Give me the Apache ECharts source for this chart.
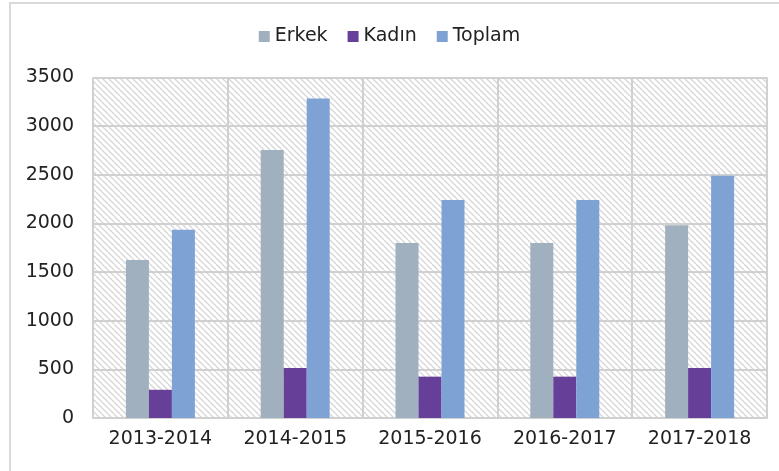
<!DOCTYPE html>
<html>
<head>
<meta charset="utf-8">
<script src="https://cdn.jsdelivr.net/npm/echarts@6/dist/echarts.min.js"></script>
<style>
  html, body { margin: 0; padding: 0; background: #fff; }
  #chart { width: 779px; height: 471px; }
</style>
</head>
<body>
<div id="chart"></div>
<script>
const years = ['2013-2014', '2014-2015', '2015-2016', '2016-2017', '2017-2018'];
const erkek = [1625, 2755, 1800, 1800, 1980];
const kadin = [290, 515, 425, 425, 515];
const toplam = [1935, 3285, 2240, 2240, 2490];

// diagonal hatch for plot background
function hatch() {
  const s = 6;
  const c = document.createElement('canvas');
  c.width = s; c.height = s;
  const ctx = c.getContext('2d');
  ctx.fillStyle = '#fff';
  ctx.fillRect(0, 0, s, s);
  ctx.strokeStyle = '#d6d6d6';
  ctx.lineWidth = 1.3;
  for (const k of [-s, 0, s]) {
    ctx.beginPath();
    ctx.moveTo(k, 0);
    ctx.lineTo(k + s, s);
    ctx.stroke();
  }
  return c;
}

const font = 'DejaVu Sans';
const myChart = echarts.init(document.getElementById('chart'));

const option = {
  animation: false,
  backgroundColor: '#fff',
  graphic: [{
    type: 'rect',
    shape: { x: 10, y: 3, width: 800, height: 500 },
    style: { fill: 'none', stroke: '#d9d9d9', lineWidth: 2 }
  }],
  legend: {
    top: 22,
    left: 'center',
    icon: 'rect',
    itemWidth: 11,
    itemHeight: 11,
    itemGap: 20,
    itemTextGap: 5,
    textStyle: { fontFamily: font, fontSize: 19, color: '#222' },
    data: ['Erkek', 'Kadın', 'Toplam']
  },
  grid: {
    left: 93, right: 12, top: 77.5, bottom: 53,
    show: true,
    borderWidth: 0,
    backgroundColor: { image: hatch(), repeat: 'repeat' }
  },
  xAxis: {
    type: 'category',
    data: years,
    axisTick: { show: false },
    axisLine: { lineStyle: { color: '#d0d0d0', width: 2 } },
    splitLine: { show: true, lineStyle: { color: '#d0d0d0', width: 2 } },
    axisLabel: { fontFamily: font, fontSize: 19, color: '#222', margin: 12 }
  },
  yAxis: {
    type: 'value',
    min: 0, max: 3500, interval: 500,
    axisLine: { show: false },
    axisTick: { show: false },
    splitLine: { lineStyle: { color: '#d0d0d0', width: 2 } },
    axisLabel: { fontFamily: font, fontSize: 19, color: '#222', margin: 19, formatter: v => String(v) }
  },
  series: [
    { name: 'Erkek', type: 'bar', data: erkek, barWidth: 23, barGap: '0%', itemStyle: { color: '#a1b0be' } },
    { name: 'Kadın', type: 'bar', data: kadin, barWidth: 23, barGap: '0%', itemStyle: { color: '#663f98' } },
    { name: 'Toplam', type: 'bar', data: toplam, barWidth: 23, barGap: '0%', itemStyle: { color: '#7fa2d5' } }
  ]
};

myChart.setOption(option);
</script>
</body>
</html>
